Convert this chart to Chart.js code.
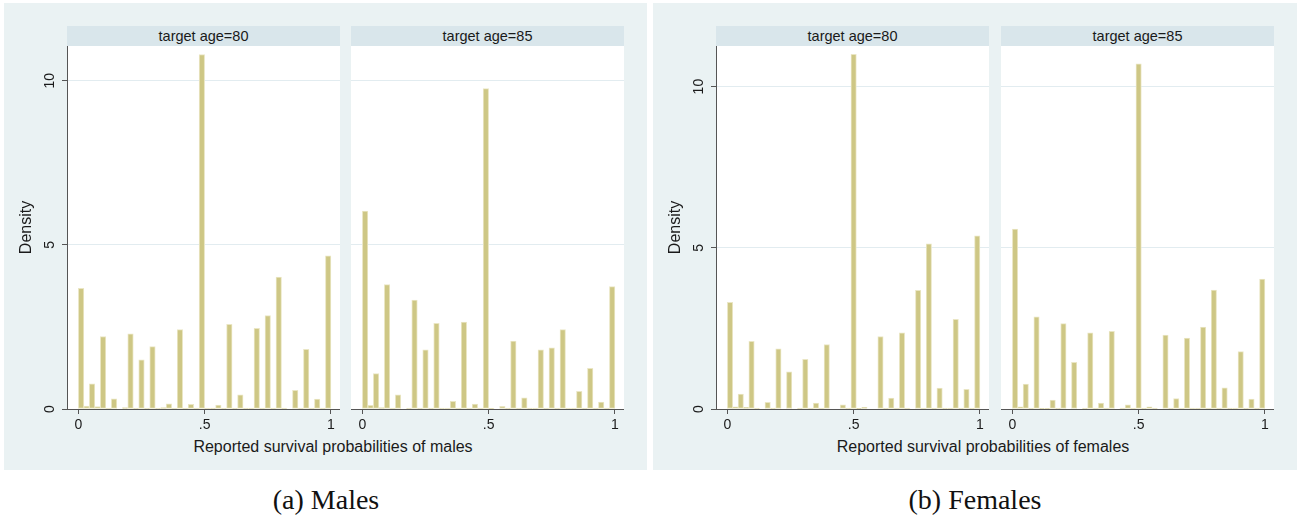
<!DOCTYPE html>
<html>
<head>
<meta charset="utf-8">
<script src="https://cdn.jsdelivr.net/npm/chart.js@4.4.1/dist/chart.umd.min.js"></script>
<style>
  body { margin: 0; width: 1301px; height: 515px; background: #fff; position: relative; overflow: hidden;
         font-family: "Liberation Sans", Arial, sans-serif; }
  .panel { position: absolute; background: #eaf2f3; }
  .strip { position: absolute; height: 20px; line-height: 20px; background: #d9e6eb; text-align: center;
           font-size: 14.5px; color: #1a1a1a; }
  .xtitle { position: absolute; font-size: 16px; line-height: 18px; color: #1a1a1a; white-space: nowrap;
            transform: translateX(-50%); }
  .caption { position: absolute; font-family: "Liberation Serif", serif; font-size: 28px; line-height: 28px;
             color: #111; white-space: nowrap; transform: translateX(-50%); }
  canvas { position: absolute; }
</style>
</head>
<body>
<div class="panel" style="left:4px;top:3px;width:643px;height:467px"></div>
<div class="panel" style="left:653px;top:3px;width:644px;height:467px"></div>
<div class="xtitle" style="left:333px;top:438px">Reported survival probabilities of males</div>
<div class="xtitle" style="left:983px;top:438px">Reported survival probabilities of females</div>
<div class="caption" style="left:326px;top:486px">(a) Males</div>
<div class="caption" style="left:975px;top:486px">(b) Females</div>
<script>
// ticks
const xTicks = [0, 0.5, 1]
const xTickLabels = ['0', '.5', '1']
const yTicks = [0, 5, 10]
const yTickLabels = ['0', '5', '10']

// histogram bins over [0, 1]
const maleBins = 46
const femaleBins = 47

// densities, one value per bin
const males80 = [3.68, 0.09, 0.77, 0.07, 2.21, 0.03, 0.31, 0.00, 0.04, 2.29, 0.03, 1.50, 0.03, 1.90, 0.03, 0.04,
  0.16, 0.03, 2.42, 0.03, 0.14, 0.03, 10.80, 0.03, 0.03, 0.12, 0.03, 2.58, 0.03, 0.43, 0.03, 0.03,
  2.46, 0.03, 2.85, 0.03, 4.02, 0.03, 0.00, 0.57, 0.03, 1.82, 0.03, 0.30, 0.03, 4.67]
const males85 = [6.03, 0.11, 1.08, 0.04, 3.79, 0.03, 0.43, 0.00, 0.03, 3.32, 0.03, 1.80, 0.03, 2.61, 0.03, 0.03,
  0.23, 0.03, 2.65, 0.03, 0.15, 0.03, 9.76, 0.02, 0.00, 0.08, 0.03, 2.07, 0.03, 0.34, 0.03, 0.03,
  1.80, 0.03, 1.86, 0.03, 2.42, 0.03, 0.03, 0.54, 0.03, 1.24, 0.03, 0.21, 0.03, 3.73]
const females80 = [3.31, 0.07, 0.46, 0.05, 2.10, 0.03, 0.00, 0.21, 0.03, 1.87, 0.00, 1.15, 0.00, 0.03, 1.54, 0.03,
  0.18, 0.03, 2.00, 0.00, 0.00, 0.13, 0.03, 11.00, 0.02, 0.05, 0.00, 0.00, 2.25, 0.03, 0.34, 0.03,
  2.36, 0.03, 0.00, 3.68, 0.03, 5.12, 0.03, 0.65, 0.03, 0.03, 2.78, 0.03, 0.61, 0.03, 5.37]
const females85 = [5.58, 0.07, 0.77, 0.03, 2.86, 0.02, 0.02, 0.28, 0.03, 2.65, 0.00, 1.45, 0.00, 0.03, 2.36, 0.03,
  0.18, 0.03, 2.41, 0.00, 0.03, 0.13, 0.03, 10.71, 0.03, 0.07, 0.03, 0.00, 2.29, 0.03, 0.32, 0.03,
  2.20, 0.03, 0.03, 2.54, 0.03, 3.69, 0.03, 0.66, 0.03, 0.03, 1.78, 0.03, 0.31, 0.03, 4.03]

// layout (pixels)
const PLOT_TOP = 46
const PLOT_H = 363
const PLOT_W = 273
const X_AXIS_H = 31
const axisColor = '#555'
const textColor = '#1a1a1a'
const barFill = 'rgb(206,199,133)'
const barEdge = 'rgb(234,230,196)'
const gridColor = 'rgb(226,236,240)'

const subplots = [
  { title: 'target age=80', values: males80, bins: maleBins, ymax: 11.06, left: 67, panelLeft: 4, yAxis: true },
  { title: 'target age=85', values: males85, bins: maleBins, ymax: 11.06, left: 351, panelLeft: 4, yAxis: false },
  { title: 'target age=80', values: females80, bins: femaleBins, ymax: 11.26, left: 716, panelLeft: 653, yAxis: true },
  { title: 'target age=85', values: females85, bins: femaleBins, ymax: 11.26, left: 1001, panelLeft: 653, yAxis: false },
]

const whiteArea = {
  id: 'whiteArea',
  beforeDraw(chart) {
    const { ctx, chartArea: a } = chart
    ctx.save()
    ctx.fillStyle = '#fff'
    ctx.fillRect(a.left, a.top, a.right - a.left, a.bottom - a.top)
    ctx.restore()
  },
}

const font = { family: '"Liberation Sans", Arial, sans-serif', size: 14 }

subplots.forEach(p => {
  const strip = document.createElement('div')
  strip.className = 'strip'
  strip.style.left = p.left + 'px'
  strip.style.top = '26px'
  strip.style.width = PLOT_W + 'px'
  strip.textContent = p.title
  document.body.appendChild(strip)

  const axisW = p.yAxis ? p.left - p.panelLeft : 0
  const canvas = document.createElement('canvas')
  canvas.width = axisW + PLOT_W
  canvas.height = PLOT_H + X_AXIS_H
  canvas.style.left = (p.left - axisW) + 'px'
  canvas.style.top = PLOT_TOP + 'px'
  document.body.appendChild(canvas)

  new Chart(canvas, {
    type: 'bar',
    data: {
      datasets: [{
        data: p.values.map((v, i) => ({ x: (i + 0.5) / p.bins, y: v })),
        backgroundColor: barFill,
        borderColor: barEdge,
        borderWidth: 1,
        borderSkipped: false,
        barPercentage: 1,
        categoryPercentage: 1,
      }],
    },
    options: {
      responsive: false,
      animation: false,
      layout: { padding: 0 },
      plugins: { legend: { display: false }, tooltip: { enabled: false } },
      scales: {
        x: {
          type: 'linear',
          min: -0.045,
          max: 1.036,
          offset: false,
          afterBuildTicks: s => { s.ticks = xTicks.map(v => ({ value: v })) },
          afterFit: s => { s.height = X_AXIS_H; s.paddingLeft = 0; s.paddingRight = 0 },
          ticks: { callback: (v, i) => xTickLabels[i], font, color: textColor, padding: 3, maxRotation: 0, autoSkip: false },
          grid: { offset: false, drawOnChartArea: false, drawTicks: true, tickLength: 5, tickColor: axisColor },
          border: { color: axisColor, width: 1 },
        },
        y: {
          min: 0,
          max: p.ymax,
          afterBuildTicks: s => { s.ticks = yTicks.map(v => ({ value: v })) },
          afterFit: s => { s.width = axisW; s.paddingTop = 0; s.paddingBottom = 0 },
          ticks: {
            display: p.yAxis,
            callback: (v, i) => yTickLabels[i],
            font, color: textColor, padding: 4,
            minRotation: 90, maxRotation: 90, crossAlign: 'center', autoSkip: false,
          },
          grid: { color: gridColor, drawTicks: p.yAxis, tickLength: 5, tickColor: axisColor },
          border: { display: p.yAxis, color: axisColor, width: 1 },
          title: {
            display: p.yAxis,
            text: 'Density',
            font: { family: font.family, size: 16 },
            color: textColor,
            padding: { top: 13, bottom: 0 },
          },
        },
      },
    },
    plugins: [whiteArea],
  })
})
</script>
</body>
</html>
